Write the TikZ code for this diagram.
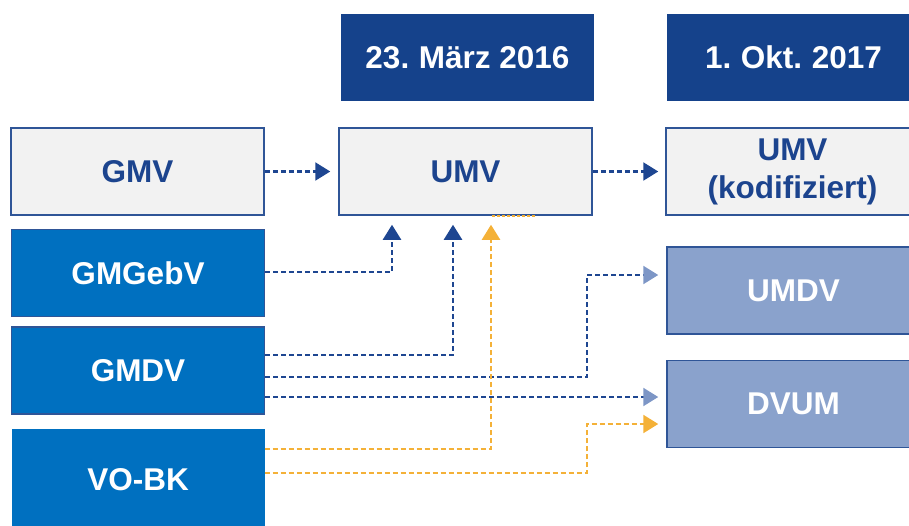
\documentclass[tikz,border=0pt]{standalone}
\usepackage{fontspec}
\setmainfont{Liberation Sans}
\usetikzlibrary{arrows.meta,calc}
\definecolor{navy}{RGB}{21,66,139}
\definecolor{txtblue}{RGB}{28,68,142}
\definecolor{midblue}{RGB}{0,112,192}
\definecolor{edgeblue}{RGB}{47,85,151}
\definecolor{boxgrey}{RGB}{242,242,242}
\definecolor{hatch}{RGB}{138,162,204}
\definecolor{hatchtip}{RGB}{125,150,198}
\definecolor{lineblue}{RGB}{30,70,145}
\definecolor{orangeline}{RGB}{244,177,56}
\begin{document}
\begin{tikzpicture}[x=1pt,y=-1pt,
  box/.style={minimum width=253pt,minimum height=87pt,inner sep=0pt,align=center,
    font=\fontsize{31.5}{38}\selectfont\bfseries},
  datebox/.style={box,fill=navy,text=white},
  greybox/.style={box,fill=boxgrey,draw=edgeblue,line width=1.5pt,text=txtblue},
  srcbox/.style={box,fill=midblue,draw=edgeblue,line width=1.5pt,text=white},
  plainsrc/.style={box,fill=midblue,text=white},
  newbox/.style={box,fill=hatch,draw=edgeblue,line width=1.5pt,text=white},
  link/.style={draw=lineblue,line width=2.2pt,dash pattern=on 5pt off 3pt,
    -{Triangle[length=15pt,width=18pt]}},
  hlink/.style={draw=lineblue,line width=2.2pt,dash pattern=on 5pt off 3pt,
    -{Triangle[length=15pt,width=18pt,fill=hatchtip,color=hatchtip]}},
  olink/.style={draw=orangeline,line width=2.2pt,dash pattern=on 5pt off 3pt,
    -{Triangle[length=15pt,width=18pt]}}
]
\useasboundingbox (0,0) rectangle (909,525);
\clip (0,0) rectangle (909,525);

\node[datebox] (d1) at (467.5,57.5) {23.\kern-2pt{} März 2016};
\node[datebox] (d2) at (793.5,57.5) {1.\kern-2pt{} Okt.\kern-2pt{} 2017};

\node[greybox] (gmv) at (137.5,171.5) {GMV};
\node[greybox] (umv) at (465.5,171.5) {UMV};
\node[greybox] (umvk) at (792.5,171.5) {UMV\\(kodifiziert)};

\node[srcbox] (gmgebv) at (138,273) {GMGebV};
\node[srcbox] (gmdv) at (138,370.5) {GMDV};
\node[plainsrc,minimum height=102pt] (vobk) at (138,480) {VO-BK};

\node[newbox] (umdv) at (793.5,290.5) {UMDV};
\node[newbox] (dvum) at (793.5,404) {DVUM};

\coordinate (bendA) at (587,0);

\draw[link,shorten >=8pt] (gmv.east) -- (umv.west);
\draw[link,shorten >=7pt] (umv.east) -- (umvk.west);

\draw[link,shorten >=9pt] (gmgebv.east |- 0,272) -| (umv.south -| 392,0);
\draw[link,shorten >=9pt] (gmdv.east |- 0,355) -| (umv.south -| 453,0);
\draw[hlink,shorten >=8pt] (gmdv.east |- 0,377) -| (bendA |- 0,275) -- (umdv.west |- 0,275);
\draw[hlink,shorten >=8pt] (gmdv.east |- 0,397) -- (dvum.west |- 0,397);

\draw[olink,shorten >=9pt] (vobk.east |- 0,449) -| (umv.south -| 491,0);
\draw[olink,shorten >=8pt] (vobk.east |- 0,473) -| (bendA |- 0,424) -- (dvum.west |- 0,424);

\draw[draw=orangeline,line width=2pt,dash pattern=on 3pt off 2pt] (umv.south -| 492,0) -- (umv.south -| 535,0);
\end{tikzpicture}
\end{document}
